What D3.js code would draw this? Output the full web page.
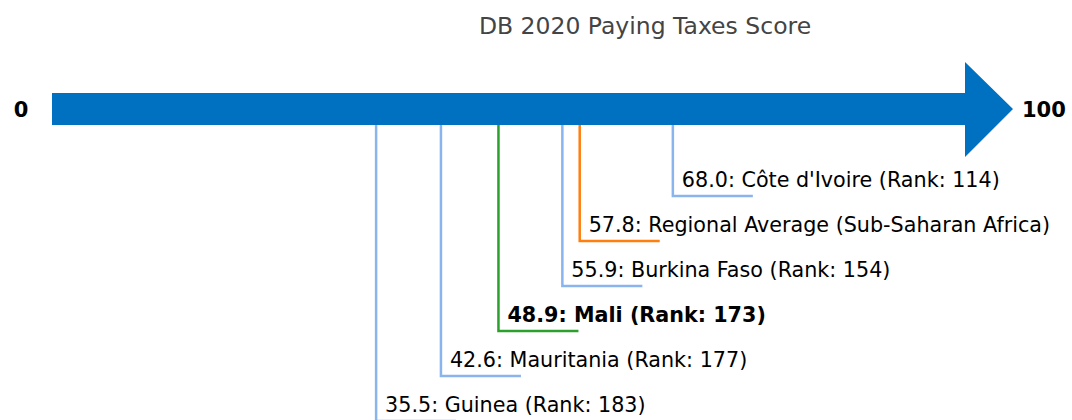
<!DOCTYPE html>
<html>
<head>
<meta charset="utf-8">
<script src="https://cdn.jsdelivr.net/npm/d3@7"></script>
<style>
body { margin: 0; background: #fff; }
text { font-family: "DejaVu Sans", sans-serif; }
</style>
</head>
<body>
<svg width="1072" height="420"></svg>
<script>
var svg = d3.select("svg");

var width = +svg.attr("width");
var height = +svg.attr("height");

// data
var names = ["Côte d'Ivoire", "Regional Average (Sub-Saharan Africa)", "Burkina Faso", "Mali", "Mauritania", "Guinea"];
var scores = [68.0, 57.8, 55.9, 48.9, 42.6, 35.5];
var ranks = [114, null, 154, 173, 177, 183];
var kinds = ["peer", "region", "peer", "focus", "peer", "peer"];
var domainEnds = [0, 100];

var colorOf = { peer: "#8ab4ee", region: "#ff7f0e", focus: "#2ca02c" };

var x = d3.scaleLinear().domain(domainEnds).range([52, 965]);
var arrowTop = 93, arrowBot = 125;

svg.append("text")
    .attr("x", 645)
    .attr("y", 34)
    .attr("text-anchor", "middle")
    .style("font-size", "23.5px")
    .style("fill", "#444")
    .text("DB 2020 Paying Taxes Score");

// arrow body + head
var mid = (arrowTop + arrowBot) / 2;
svg.append("path")
    .attr("d", "M" + x(0) + "," + arrowTop +
        "L" + x(100) + "," + arrowTop +
        "L" + x(100) + ",62" +
        "L" + (x(100) + 48) + "," + mid +
        "L" + x(100) + ",157" +
        "L" + x(100) + "," + arrowBot +
        "L" + x(0) + "," + arrowBot + "Z")
    .style("fill", "#0070c0");

svg.append("text")
    .attr("x", 21).attr("y", mid + 8)
    .attr("text-anchor", "middle")
    .style("font-size", "21px").style("font-weight", "bold")
    .text(domainEnds[0]);
svg.append("text")
    .attr("x", 1022).attr("y", mid + 8)
    .style("font-size", "21px").style("font-weight", "bold")
    .text(domainEnds[1]);

var rows = scores.map(function (s, i) {
    return { score: s, name: names[i], rank: ranks[i], kind: kinds[i], i: i };
});

var g = svg.append("g").selectAll("g").data(rows).enter().append("g");

g.append("path")
    .attr("d", function (d) {
        var yEnd = 196 + d.i * 45;
        return "M" + x(d.score) + "," + arrowBot + "V" + yEnd + "H" + (x(d.score) + 80);
    })
    .style("fill", "none")
    .style("stroke", function (d) { return colorOf[d.kind]; })
    .style("stroke-width", 2.5);

g.append("text")
    .attr("x", function (d) { return x(d.score) + 9; })
    .attr("y", function (d) { return 187 + d.i * 45; })
    .style("font-size", "20.7px")
    .style("font-weight", function (d) { return d.kind == "focus" ? "bold" : "normal"; })
    .text(function (d) {
        var t = d.score.toFixed(1) + ": " + d.name;
        if (d.rank != null) t += " (Rank: " + d.rank + ")";
        return t;
    });
</script>
</body>
</html>
